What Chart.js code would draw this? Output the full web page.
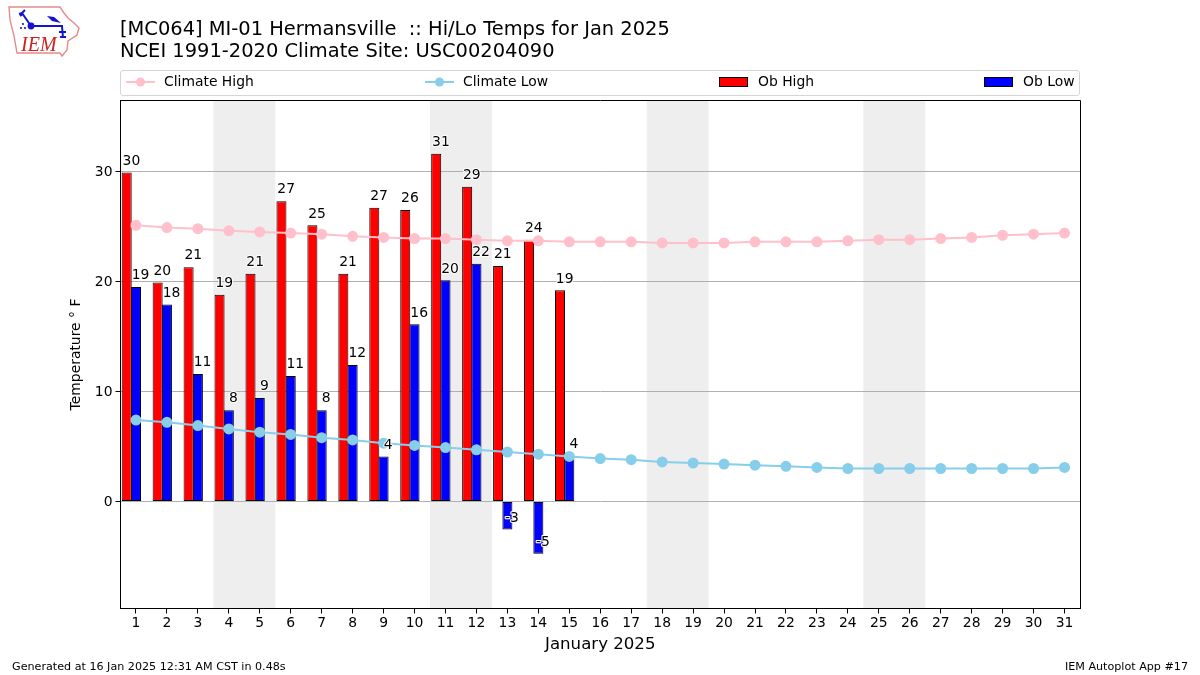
<!DOCTYPE html>
<html>
<head>
<meta charset="utf-8">
<title>Hi/Lo Temps</title>
<script src="https://cdn.jsdelivr.net/npm/chart.js@4"></script>
<style>
  html, body { margin: 0; padding: 0; background: #fff; }
  body { width: 1200px; height: 675px; position: relative; overflow: hidden; font-family: "DejaVu Sans", sans-serif; color: #000; }
  #wrap { position: absolute; left: 0; top: 0; width: 1200px; height: 675px; }
  #logo { position: absolute; left: 8px; top: 6px; }
  #title { position: absolute; left: 120px; top: 18px; font-size: 19.44px; line-height: 22px; white-space: pre; }
  #legend { position: absolute; left: 120px; top: 70px; width: 958px; height: 24px; border: 1px solid #d5d5d5; border-radius: 3px; font-size: 13.9px; }
  #legend .item { position: absolute; top: 0; height: 24px; line-height: 21px; white-space: pre; }
  #legend svg { position: absolute; left: 0; top: 4px; }
  #legend span { position: absolute; left: 38px; top: 0; }
  #legend .bar span { left: 39px; }
  .foot { position: absolute; top: 660px; font-size: 11.15px; line-height: 13px; color: #000; white-space: pre; }
</style>
</head>
<body>
<div id="wrap"><canvas id="myChart" width="1200" height="675"></canvas></div>
<svg id="logo" width="72" height="54" viewBox="0 0 72 54">
  <path d="M1 1 L52 1 L56 7 L60 12 L66 17 L71 22 L69 29 L60 35 L59 44 L54 50 L52 47 L9 47 L6 30 L2 14 Z" fill="#fff" stroke="#e58a8a" stroke-width="1.4"/>
  <path d="M23 20 H55 M23 20 L14 7 M14 7 L11 8 M14 7 L17 4 M12 10 L15 8 M54 20 L55 32 M51 26 L58 26 M52 31 L58 31" fill="none" stroke="#1414cc" stroke-width="2"/>
  <path d="M39 10 L46 11 L53 17 L44 15 Z" fill="#1414cc"/>
  <circle cx="23" cy="20" r="3.4" fill="#1414cc"/>
  <circle cx="15" cy="18" r="1.1" fill="#1414cc"/><circle cx="17" cy="22" r="1.1" fill="#1414cc"/><circle cx="13" cy="22" r="1.1" fill="#1414cc"/>
  <text x="13" y="45" font-family="Liberation Serif" font-style="italic" font-size="20" fill="#cc2222">IEM</text>
</svg>
<div id="title">[MC064] MI-01 Hermansville  :: Hi/Lo Temps for Jan 2025
NCEI 1991-2020 Climate Site: USC00204090</div>
<div id="legend"></div>
<div class="foot" style="left:12px">Generated at 16 Jan 2025 12:31 AM CST in 0.48s</div>
<div class="foot" style="right:12px">IEM Autoplot App #17</div>

<script>
// dados
const days = ['1','2','3','4','5','6','7','8','9','10','11','12','13','14','15','16','17','18','19','20','21','22','23','24','25','26','27','28','29','30','31'];
const climateHigh = [25.1,24.9,24.8,24.6,24.5,24.4,24.3,24.1,24.0,23.9,23.9,23.8,23.7,23.7,23.6,23.6,23.6,23.5,23.5,23.5,23.6,23.6,23.6,23.7,23.8,23.8,23.9,24.0,24.2,24.3,24.4];
const climateLow = [7.4,7.2,6.9,6.6,6.3,6.1,5.8,5.6,5.3,5.1,4.9,4.7,4.5,4.3,4.1,3.9,3.8,3.6,3.5,3.4,3.3,3.2,3.1,3.0,3.0,3.0,3.0,3.0,3.0,3.0,3.1];
const obHigh = [29.9,19.9,21.3,18.8,20.7,27.3,25.1,20.7,26.7,26.5,31.6,28.6,21.4,23.8,19.2];
const obLow = [19.5,17.9,11.6,8.3,9.4,11.4,8.3,12.4,4.1,16.1,20.1,21.6,-2.55,-4.75,4.2];
const obHighLabels = [30,20,21,19,21,27,25,21,27,26,31,29,21,24,19];
const obLowLabels = [19,18,11,8,9,11,8,12,4,16,20,22,-3,-5,4];
const weekends = [['4','5'],['11','12'],['18','19'],['25','26']];
const yTicks = [0,10,20,30];

const font = 'DejaVu Sans';

// faixas cinza dos fins de semana, atras da grade
const bandsPlugin = {
  id: 'bands',
  beforeDraw(chart) {
    const ctx = chart.ctx, x = chart.scales.x, area = chart.chartArea;
    const half = x.getPixelForValue(1) / 2 - x.getPixelForValue(0) / 2;
    ctx.save();
    ctx.fillStyle = '#eeeeee';
    weekends.forEach(w => {
      const a = x.getPixelForValue(days.indexOf(w[0])) - half;
      const b = x.getPixelForValue(days.indexOf(w[1])) + half;
      ctx.fillRect(a, area.top, b - a, area.bottom - area.top);
    });
    ctx.restore();
  }
};

// rotulos sobre as barras, com halo branco, e moldura do grafico
const labelsPlugin = {
  id: 'barLabels',
  afterDatasetsDraw(chart) {
    const ctx = chart.ctx, y = chart.scales.y;
    ctx.save();
    ctx.font = '13.9px "' + font + '"';
    ctx.textAlign = 'center';
    ctx.textBaseline = 'alphabetic';
    ctx.lineJoin = 'round';
    [[2, obHigh, obHighLabels], [3, obLow, obLowLabels]].forEach(s => {
      chart.getDatasetMeta(s[0]).data.forEach((bar, i) => {
        const px = chart.scales.x.getPixelForValue(i) + (s[0] === 2 ? -4.6 : 4.6);
        const py = y.getPixelForValue(s[1][i] + 0.7);
        ctx.strokeStyle = '#fff';
        ctx.lineWidth = 2;
        ctx.strokeText(String(s[2][i]), px, py);
        ctx.fillStyle = '#000';
        ctx.fillText(String(s[2][i]), px, py);
      });
    });
    const a = chart.chartArea;
    ctx.strokeStyle = '#000';
    ctx.lineWidth = 1;
    ctx.strokeRect(Math.floor(a.left) + 0.5, Math.floor(a.top) + 0.5, Math.round(a.right - a.left), Math.round(a.bottom - a.top));
    ctx.restore();
  }
};

const chart = new Chart(document.getElementById('myChart'), {
  type: 'bar',
  plugins: [bandsPlugin, labelsPlugin],
  data: {
    labels: days,
    datasets: [
      { type: 'line', label: 'Climate High', data: climateHigh, borderColor: 'pink', backgroundColor: 'pink', borderWidth: 2, pointRadius: 4.5, pointHoverRadius: 4.5, tension: 0, order: 1 },
      { type: 'line', label: 'Climate Low', data: climateLow, borderColor: 'skyblue', backgroundColor: 'skyblue', borderWidth: 2, pointRadius: 4.5, pointHoverRadius: 4.5, tension: 0, order: 1 },
      { label: 'Ob High', data: obHigh, backgroundColor: 'red', borderColor: '#000', borderWidth: 1, borderSkipped: false, barPercentage: 1.08, categoryPercentage: 0.9, order: 2 },
      { label: 'Ob Low', data: obLow, backgroundColor: 'blue', borderColor: '#000', borderWidth: 1, borderSkipped: false, barPercentage: 1.08, categoryPercentage: 0.9, order: 2 },
      // grupo vazio: deixa a barra azul centrada no dia
      { label: '', data: [], backgroundColor: 'transparent', barPercentage: 1, categoryPercentage: 0.9, order: 2 }
    ]
  },
  options: {
    responsive: false,
    animation: false,
    layout: { padding: { left: 0, right: 120, top: 100.5, bottom: 0 } },
    plugins: { legend: { display: false }, title: { display: false }, tooltip: { enabled: false } },
    scales: {
      x: {
        afterFit(s) { s.height = 66.5; },
        grid: { drawOnChartArea: false, drawTicks: true, tickLength: 5, tickColor: '#000', offset: false },
        border: { color: '#000' },
        ticks: { color: '#000', font: { family: font, size: 13.9 }, maxRotation: 0, autoSkip: false, padding: 2 },
        title: { display: true, text: 'January 2025', color: '#000', font: { family: font, size: 16.6 }, padding: { top: 6, bottom: 20 } }
      },
      y: {
        min: -9.727,
        max: 36.45,
        afterFit(s) { s.width = 120.5; },
        afterBuildTicks(s) { s.ticks = yTicks.map(v => ({ value: v })); },
        grid: { color: '#b0b0b0', lineWidth: 1, tickColor: '#000', tickLength: 5 },
        border: { color: '#000' },
        ticks: { color: '#000', font: { family: font, size: 13.9 }, padding: 3, labelOffset: 1 },
        title: { display: true, text: 'Temperature \u00b0 F', color: '#000', font: { family: font, size: 13.9 }, padding: { top: 68, bottom: 0 } }
      }
    }
  }
});

// legenda em quatro colunas, como no original
const legendBox = document.getElementById('legend');
const legendLeft = [5, 304, 598, 863];
chart.data.datasets.slice(0, 4).forEach((ds, i) => {
  const item = document.createElement('div');
  item.className = ds.type === 'line' ? 'item' : 'item bar';
  item.style.left = legendLeft[i] + 'px';
  const icon = ds.type === 'line'
    ? '<svg width="30" height="14"><line x1="0" y1="7" x2="29" y2="7" stroke="' + ds.borderColor + '" stroke-width="2"/><circle cx="14.5" cy="7" r="4.5" fill="' + ds.backgroundColor + '"/></svg>'
    : '<svg width="30" height="14"><rect x="0.5" y="2.5" width="28" height="9" fill="' + ds.backgroundColor + '" stroke="#000"/></svg>';
  item.innerHTML = icon + '<span></span>';
  item.querySelector('span').textContent = ds.label;
  legendBox.appendChild(item);
});
</script>
</body>
</html>
